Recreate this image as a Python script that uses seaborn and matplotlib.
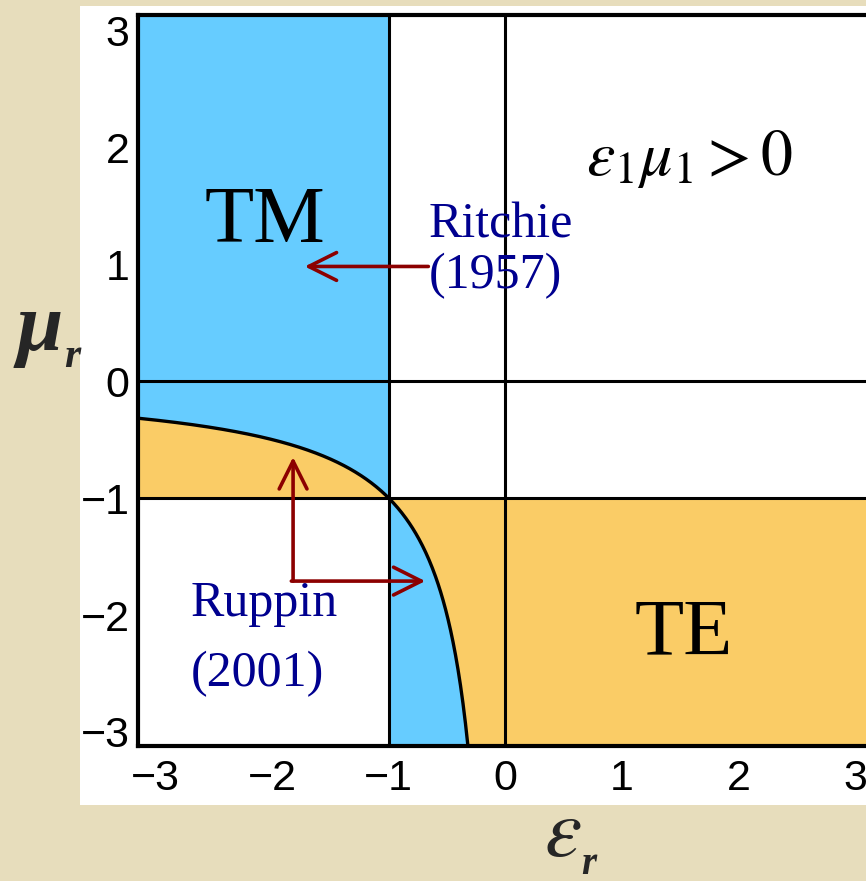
import numpy as np
import pandas as pd
import matplotlib
matplotlib.use("Agg")
import matplotlib.pyplot as plt
from matplotlib.patches import Rectangle
import seaborn as sns

sns.set_theme(style="white")
plt.rcParams["font.family"] = ["Liberation Sans", "DejaVu Sans"]
plt.rcParams["mathtext.fontset"] = "stix"

# axis ranges and tick values
x_lim = (-3.15, 3.15)
y_lim = (-3.12, 3.13)
x_ticks = [-3, -2, -1, 0, 1, 2, 3]
y_ticks = [-3, -2, -1, 0, 1, 2, 3]

# boundary of the TM/TE regions: eps * mu = 1
eps_curve = np.linspace(x_lim[0], 1.0 / y_lim[0], 400)
mu_curve = 1.0 / eps_curve
curve = pd.DataFrame({"eps": eps_curve, "mu": mu_curve})

# region boundaries
border_lines_x = [-1, 0]
border_lines_y = [0, -1]

BLUE = "#66CCFF"
ORANGE = "#FACC66"
NAVY = "#00008F"
DARKRED = "#8C0000"

fig = plt.figure(figsize=(8.66, 8.81), dpi=100)
fig.patch.set_facecolor("#E7DDBC")
fig.add_artist(Rectangle((80 / 866, 76 / 881), 1.0, 799 / 881,
                         transform=fig.transFigure, facecolor="white",
                         edgecolor="none", zorder=-10))

ax = fig.add_axes([138 / 866, 135 / 881, (872.6 - 138) / 866, 731 / 881])
ax.set_xlim(*x_lim)
ax.set_ylim(*y_lim)

left = curve[curve["eps"] <= -1]
right = curve[curve["eps"] >= -1]

# TM region (blue)
ax.fill_between(left["eps"], left["mu"], y_lim[1], color=BLUE, lw=0, zorder=1)
ax.fill_between(right["eps"], y_lim[0], right["mu"], color=BLUE, lw=0, zorder=1)

# TE region (orange)
ax.fill_between(left["eps"], -1, left["mu"], color=ORANGE, lw=0, zorder=1)
ax.fill_between([-1, 0], y_lim[0], -1, color=ORANGE, lw=0, zorder=0.9)
ax.fill_between([0, x_lim[1]], y_lim[0], -1, color=ORANGE, lw=0, zorder=1)

sns.lineplot(data=curve, x="eps", y="mu", ax=ax, color="black", lw=2.4,
             sort=False, zorder=3)

for xv in border_lines_x:
    ax.axvline(xv, color="black", lw=2.2, zorder=3)
for yv in border_lines_y:
    ax.axhline(yv, color="black", lw=2.2, zorder=3)

ax.set_xticks(x_ticks)
ax.set_yticks(y_ticks)
ax.tick_params(axis="both", labelsize=31, length=0, colors="black")
ax.tick_params(axis="x", pad=9)
ax.tick_params(axis="y", pad=6)
ax.set_xlabel("")
ax.set_ylabel("")
for side in ["left", "bottom", "top", "right"]:
    ax.spines[side].set_color("black")
    ax.spines[side].set_linewidth(3)
ax.spines["right"].set_visible(False)

serif = ["Liberation Serif", "DejaVu Serif"]

ax.text(-2.06, 1.36, "TM", fontsize=58, family=serif, ha="center",
        va="center", color="black", zorder=5)
ax.text(1.53, -2.17, "TE", fontsize=58, family=serif, ha="center",
        va="center", color="black", zorder=5)
ax.text(1.58, 1.9, r"$\varepsilon_1\mu_1 > 0$", fontsize=46, ha="center",
        va="center", color="black", zorder=5)

ax.text(-0.66, 1.33, "Ritchie", fontsize=36, family=serif, ha="left",
        va="center", color=NAVY, zorder=5)
ax.text(-0.66, 0.9, "(1957)", fontsize=36, family=serif, ha="left",
        va="center", color=NAVY, zorder=5)
ax.text(-2.7, -1.9, "Ruppin", fontsize=36, family=serif, ha="left",
        va="center", color=NAVY, zorder=5)
ax.text(-2.7, -2.5, "(2001)", fontsize=36, family=serif, ha="left",
        va="center", color=NAVY, zorder=5)

arrow_kw = dict(arrowstyle="->,head_length=1.0,head_width=0.5",
                color=DARKRED, lw=2.6, shrinkA=0, shrinkB=0,
                mutation_scale=20)
ax.annotate("", xy=(-1.72, 0.98), xytext=(-0.66, 0.98),
            arrowprops=arrow_kw, zorder=6)
ax.annotate("", xy=(-1.82, -0.65), xytext=(-1.82, -1.71),
            arrowprops=arrow_kw, zorder=6)
ax.annotate("", xy=(-0.686, -1.71), xytext=(-1.835, -1.71),
            arrowprops=arrow_kw, zorder=6)

# axis symbols
fig.text(40 / 866, 1 - 330 / 881, "\u03bc", fontsize=60, family=serif,
         style="italic", weight="bold", ha="center", va="center")
fig.text(72 / 866, 1 - 357 / 881, "r", fontsize=30, family=serif,
         style="italic", weight="bold", ha="center", va="center")
fig.text(563 / 866, 1 - 834 / 881, r"$\varepsilon$", fontsize=60,
         ha="center", va="center")
fig.text(589 / 866, 1 - 864 / 881, "r", fontsize=28, family=serif,
         style="italic", weight="bold", ha="center", va="center")

fig.savefig("out.png", dpi=100, facecolor=fig.get_facecolor())
